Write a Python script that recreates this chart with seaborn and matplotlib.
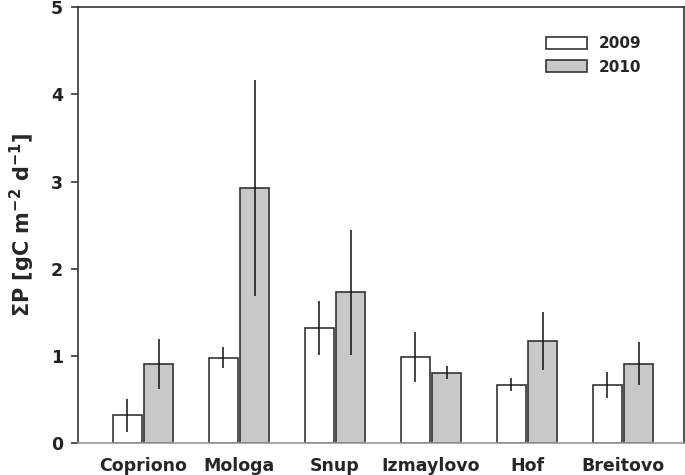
import pandas as pd
import seaborn as sns
import matplotlib.pyplot as plt

# Werte
sites = ["Copriono", "Mologa", "Snup", "Izmaylovo", "Hof", "Breitovo"]
years = ["2009", "2010"]
p_2009 = [0.32, 0.98, 1.32, 0.99, 0.67, 0.67]
p_2010 = [0.91, 2.93, 1.73, 0.81, 1.17, 0.91]
err_2009 = [0.19, 0.12, 0.31, 0.29, 0.075, 0.15]
err_2010 = [0.29, 1.24, 0.72, 0.077, 0.33, 0.245]


def build_frame():
    df = pd.DataFrame({
        "site": sites * 2,
        "year": [years[0]] * len(sites) + [years[1]] * len(sites),
        "value": p_2009 + p_2010,
    })
    return df


sns.set_style("ticks")
plt.rcParams["font.family"] = ["DejaVu Sans"]
plt.rcParams["font.weight"] = "bold"
plt.rcParams["mathtext.fontset"] = "custom"
plt.rcParams["mathtext.rm"] = "DejaVu Sans:bold"
plt.rcParams["mathtext.it"] = "DejaVu Sans:bold"
plt.rcParams["mathtext.default"] = "rm"

df = build_frame()

fig = plt.figure(figsize=(6.85, 4.75), dpi=100)
ax = fig.add_axes([0.114, 0.067, 0.8845, 0.918])

sns.barplot(
    data=df, x="site", y="value", hue="year",
    order=sites, hue_order=years,
    palette={"2009": "white", "2010": "#c8c8c8"},
    edgecolor="#333333", linewidth=1.2,
    width=0.656, gap=0.08, errorbar=None, ax=ax,
)

# Fehlerbalken ohne Kappen
for container, errs in zip(ax.containers, [err_2009, err_2010]):
    xs = [p.get_x() + p.get_width() / 2 for p in container.patches]
    ys = [p.get_height() for p in container.patches]
    ax.errorbar(xs, ys, yerr=errs, fmt="none", ecolor="#111111",
                elinewidth=1.1, capsize=0, zorder=5)

ax.set_ylim(0, 5)
ax.set_xlim(-0.677, 5.635)
ax.set_yticks([0, 1, 2, 3, 4, 5])
ax.set_xlabel("")
ax.set_ylabel(r"$\Sigma$P [gC m$^{-2}$ d$^{-1}$]", fontsize=15,
              fontweight="bold", labelpad=10)
ax.tick_params(axis="y", direction="out", length=5, width=1.1,
               labelsize=12.5, colors="#222222", pad=6)
ax.tick_params(axis="x", length=0, labelsize=12.5, pad=10)
for lab in ax.get_xticklabels() + ax.get_yticklabels():
    lab.set_fontweight("bold")

for side in ["left", "top", "right"]:
    ax.spines[side].set_visible(True)
    ax.spines[side].set_color("#333333")
    ax.spines[side].set_linewidth(1.2)
ax.spines["bottom"].set_color("#999999")
ax.spines["bottom"].set_linewidth(1.2)

ax.legend(
    loc="upper right", bbox_to_anchor=(0.93, 0.933), frameon=False,
    handlelength=2.72, handleheight=0.82, handletextpad=0.75,
    labelspacing=0.55, borderpad=0, borderaxespad=0,
    prop={"family": "DejaVu Sans", "weight": "bold", "size": 11},
)

plt.savefig("out.png", dpi=100)
